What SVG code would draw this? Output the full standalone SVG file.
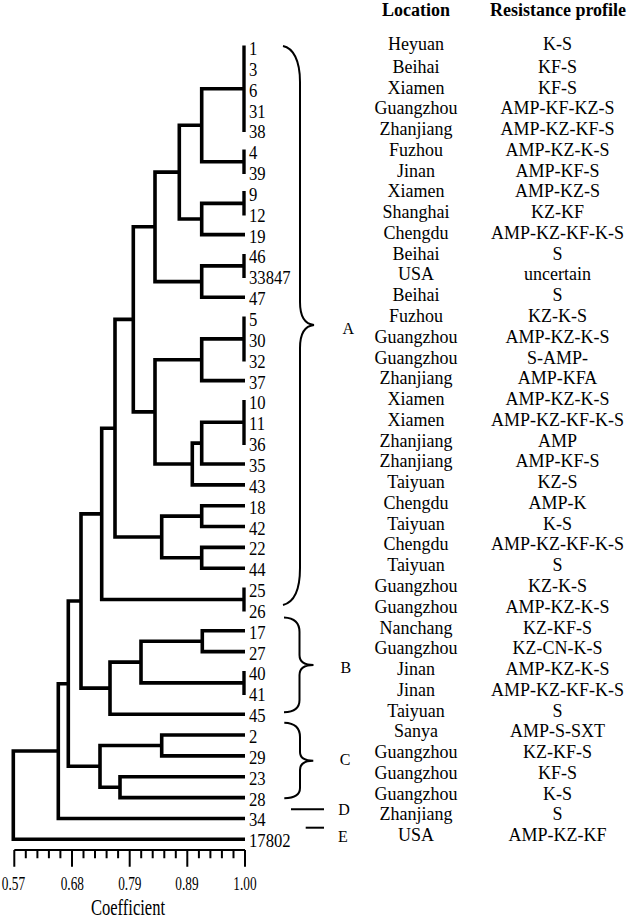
<svg xmlns="http://www.w3.org/2000/svg" width="630" height="921" viewBox="0 0 630 921">
<style>
text{font-family:"Liberation Serif","Times New Roman",serif;fill:#000}
.tree path{fill:none;stroke:#000;stroke-width:3.6;stroke-linejoin:miter}
.bar{stroke:#000;stroke-width:3.4}
.axis path{fill:none;stroke:#000;stroke-width:2}
.brace path{fill:none;stroke:#000;stroke-width:2}
.leaf text{font-size:18.5px}
.tick text{font-size:18px;text-anchor:middle}
.hdr{font-size:18px;font-weight:bold;text-anchor:middle}
.row text{font-size:18px;text-anchor:middle}
.cl{font-size:16px;text-anchor:middle}
</style>
<rect width="630" height="921" fill="#fff"/>

<g id="connectors" class="tree">
<path d="M245 88.7H201.7V161.7H245"/>
<path d="M245 203.4H201.7V234.65H245"/>
<path d="M201.7 125.2H179.3V219H201.7"/>
<path d="M245 265.9H201.7V297.2H245"/>
<path d="M179.3 172.1H155V281.6H201.7"/>
<path d="M245 338.9H201.7V380.6H245"/>
<path d="M245 422.3H201.7V464H245"/>
<path d="M201.7 443.15H192.3V484.85H245"/>
<path d="M201.7 359.75H155V464H192.3"/>
<path d="M155 226.8H133.3V411.9H155"/>
<path d="M245 505.7H201.7V526.55H245"/>
<path d="M245 547.4H201.7V568.25H245"/>
<path d="M201.7 516.1H161.7V557.8H201.7"/>
<path d="M133.3 319.4H115V537H161.7"/>
<path d="M115 428.2H101.7V599.5H245"/>
<path d="M245 630.8H202.3V651.65H245"/>
<path d="M202.3 641.2H141V682.9H245"/>
<path d="M141 662.1H110V714.2H245"/>
<path d="M101.7 513.9H81V688.1H110"/>
<path d="M245 735.05H161.7V755.9H245"/>
<path d="M245 776.75H120V797.6H245"/>
<path d="M161.7 745.5H100V787.2H120"/>
<path d="M81 601H68.3V766.3H100"/>
<path d="M68.3 683.7H58.3V818.45H245"/>
<path d="M58.3 751H13.3V839.3H245"/>
<line class="bar" x1="244" y1="45.5" x2="244" y2="132"/>
<line class="bar" x1="244" y1="149.5" x2="244" y2="174"/>
<line class="bar" x1="244" y1="191" x2="244" y2="215.5"/>
<line class="bar" x1="244" y1="254" x2="244" y2="278"/>
<line class="bar" x1="244" y1="316.5" x2="244" y2="361.5"/>
<line class="bar" x1="244" y1="400" x2="244" y2="445"/>
<line class="bar" x1="244" y1="587.5" x2="244" y2="611.5"/>
<line class="bar" x1="244" y1="671" x2="244" y2="695"/>
</g>

<g id="leaves" class="leaf" transform="translate(249,-2) scale(0.9,1)">
<g id="leaf-1"><text x="0" y="57">1</text></g>
<g id="leaf-3"><text x="0" y="77.85">3</text></g>
<g id="leaf-6"><text x="0" y="98.7">6</text></g>
<g id="leaf-31"><text x="0" y="119.55">31</text></g>
<g id="leaf-38"><text x="0" y="140.4">38</text></g>
<g id="leaf-4"><text x="0" y="161.25">4</text></g>
<g id="leaf-39"><text x="0" y="182.1">39</text></g>
<g id="leaf-9"><text x="0" y="202.95">9</text></g>
<g id="leaf-12"><text x="0" y="223.8">12</text></g>
<g id="leaf-19"><text x="0" y="244.65">19</text></g>
<g id="leaf-46"><text x="0" y="265.5">46</text></g>
<g id="leaf-33847"><text x="0" y="286.35">33847</text></g>
<g id="leaf-47"><text x="0" y="307.2">47</text></g>
<g id="leaf-5"><text x="0" y="328.05">5</text></g>
<g id="leaf-30"><text x="0" y="348.9">30</text></g>
<g id="leaf-32"><text x="0" y="369.75">32</text></g>
<g id="leaf-37"><text x="0" y="390.6">37</text></g>
<g id="leaf-10"><text x="0" y="411.45">10</text></g>
<g id="leaf-11"><text x="0" y="432.3">11</text></g>
<g id="leaf-36"><text x="0" y="453.15">36</text></g>
<g id="leaf-35"><text x="0" y="474">35</text></g>
<g id="leaf-43"><text x="0" y="494.85">43</text></g>
<g id="leaf-18"><text x="0" y="515.7">18</text></g>
<g id="leaf-42"><text x="0" y="536.55">42</text></g>
<g id="leaf-22"><text x="0" y="557.4">22</text></g>
<g id="leaf-44"><text x="0" y="578.25">44</text></g>
<g id="leaf-25"><text x="0" y="599.1">25</text></g>
<g id="leaf-26"><text x="0" y="619.95">26</text></g>
<g id="leaf-17"><text x="0" y="640.8">17</text></g>
<g id="leaf-27"><text x="0" y="661.65">27</text></g>
<g id="leaf-40"><text x="0" y="682.5">40</text></g>
<g id="leaf-41"><text x="0" y="703.35">41</text></g>
<g id="leaf-45"><text x="0" y="724.2">45</text></g>
<g id="leaf-2"><text x="0" y="745.05">2</text></g>
<g id="leaf-29"><text x="0" y="765.9">29</text></g>
<g id="leaf-23"><text x="0" y="786.75">23</text></g>
<g id="leaf-28"><text x="0" y="807.6">28</text></g>
<g id="leaf-34"><text x="0" y="828.45">34</text></g>
<g id="leaf-17802"><text x="0" y="849.3">17802</text></g>
</g>

<g id="axis" class="axis">
<path d="M14.3 850H245"/>
<path d="M14.3 850V866.7M72 850V866.7M129.7 850V866.7M187.3 850V866.7M245 850V866.7"/>
<path d="M25.8 850V858.3M37.4 850V858.3M48.9 850V858.3M60.4 850V858.3M83.5 850V858.3M95 850V858.3M106.6 850V858.3M118.1 850V858.3M141.2 850V858.3M152.7 850V858.3M164.3 850V858.3M175.8 850V858.3M198.9 850V858.3M210.4 850V858.3M221.9 850V858.3M233.5 850V858.3"/>
<g class="tick">
<text transform="translate(13.5,890) scale(0.74,1)">0.57</text>
<text transform="translate(72.3,890) scale(0.74,1)">0.68</text>
<text transform="translate(129.8,890) scale(0.74,1)">0.79</text>
<text transform="translate(187,890) scale(0.74,1)">0.89</text>
<text transform="translate(245,890) scale(0.74,1)">1.00</text>
</g>
<text transform="translate(128,915) scale(0.72,1)" style="font-size:23px;text-anchor:middle">Coefficient</text>
</g>

<g id="brace-A" class="brace">
<path d="M283 46C293 48 300 60 300 82L300 302C300 316 304 324 314 325C304 326 300 334 300 348L300 568C300 590 295 602 283 605"/>
<text class="cl" x="348.3" y="334">A</text>
</g>
<g id="brace-B" class="brace">
<path d="M284 617.5C294 618 299.5 622 299.5 632L299.5 655C299.5 662 304 665 313.5 665C304 665 299.5 668 299.5 675L299.5 700C299.5 708 294 712 284 712.3"/>
<text class="cl" x="345.8" y="673.3">B</text>
</g>
<g id="brace-C" class="brace">
<path d="M284.3 722.7C294 723 300 727 300 737L300 752C300 758 305 760.7 313.3 760.7C305 760.7 300 763 300 770L300 788C300 795 294 798 284.3 798.3"/>
<text class="cl" x="345" y="765">C</text>
</g>
<g id="group-D" class="brace">
<path d="M291 809.3H324"/>
<text class="cl" x="344" y="815">D</text>
</g>
<g id="group-E" class="brace">
<path d="M305.7 827.7H324"/>
<text class="cl" x="343" y="841.7">E</text>
</g>

<g id="table">
<text class="hdr" x="416" y="16">Location</text>
<text class="hdr" x="558" y="16">Resistance profile</text>
<g class="row" id="row-1"><text x="416" y="49.5">Heyuan</text><text x="557.5" y="49.5">K-S</text></g>
<g class="row" id="row-3"><text x="416" y="72.7">Beihai</text><text x="557.5" y="72.7">KF-S</text></g>
<g class="row" id="row-6"><text x="416" y="93.5">Xiamen</text><text x="557.5" y="93.5">KF-S</text></g>
<g class="row" id="row-31"><text x="416" y="114.2">Guangzhou</text><text x="557.5" y="114.2">AMP-KF-KZ-S</text></g>
<g class="row" id="row-38"><text x="416" y="135">Zhanjiang</text><text x="557.5" y="135">AMP-KZ-KF-S</text></g>
<g class="row" id="row-4"><text x="416" y="155.8">Fuzhou</text><text x="557.5" y="155.8">AMP-KZ-K-S</text></g>
<g class="row" id="row-39"><text x="416" y="176.6">Jinan</text><text x="557.5" y="176.6">AMP-KF-S</text></g>
<g class="row" id="row-9"><text x="416" y="197.3">Xiamen</text><text x="557.5" y="197.3">AMP-KZ-S</text></g>
<g class="row" id="row-12"><text x="416" y="218.1">Shanghai</text><text x="557.5" y="218.1">KZ-KF</text></g>
<g class="row" id="row-19"><text x="416" y="238.9">Chengdu</text><text x="557.5" y="238.9">AMP-KZ-KF-K-S</text></g>
<g class="row" id="row-46"><text x="416" y="259.6">Beihai</text><text x="557.5" y="259.6">S</text></g>
<g class="row" id="row-33847"><text x="416" y="280.4">USA</text><text x="557.5" y="280.4">uncertain</text></g>
<g class="row" id="row-47"><text x="416" y="301.2">Beihai</text><text x="557.5" y="301.2">S</text></g>
<g class="row" id="row-5"><text x="416" y="321.9">Fuzhou</text><text x="557.5" y="321.9">KZ-K-S</text></g>
<g class="row" id="row-30"><text x="416" y="342.7">Guangzhou</text><text x="557.5" y="342.7">AMP-KZ-K-S</text></g>
<g class="row" id="row-32"><text x="416" y="363.5">Guangzhou</text><text x="557.5" y="363.5">S-AMP-</text></g>
<g class="row" id="row-37"><text x="416" y="384.3">Zhanjiang</text><text x="557.5" y="384.3">AMP-KFA</text></g>
<g class="row" id="row-10"><text x="416" y="405">Xiamen</text><text x="557.5" y="405">AMP-KZ-K-S</text></g>
<g class="row" id="row-11"><text x="416" y="425.8">Xiamen</text><text x="557.5" y="425.8">AMP-KZ-KF-K-S</text></g>
<g class="row" id="row-36"><text x="416" y="446.6">Zhanjiang</text><text x="557.5" y="446.6">AMP</text></g>
<g class="row" id="row-35"><text x="416" y="467.3">Zhanjiang</text><text x="557.5" y="467.3">AMP-KF-S</text></g>
<g class="row" id="row-43"><text x="416" y="488.1">Taiyuan</text><text x="557.5" y="488.1">KZ-S</text></g>
<g class="row" id="row-18"><text x="416" y="508.9">Chengdu</text><text x="557.5" y="508.9">AMP-K</text></g>
<g class="row" id="row-42"><text x="416" y="529.6">Taiyuan</text><text x="557.5" y="529.6">K-S</text></g>
<g class="row" id="row-22"><text x="416" y="550.4">Chengdu</text><text x="557.5" y="550.4">AMP-KZ-KF-K-S</text></g>
<g class="row" id="row-44"><text x="416" y="571.2">Taiyuan</text><text x="557.5" y="571.2">S</text></g>
<g class="row" id="row-25"><text x="416" y="591.9">Guangzhou</text><text x="557.5" y="591.9">KZ-K-S</text></g>
<g class="row" id="row-26"><text x="416" y="612.7">Guangzhou</text><text x="557.5" y="612.7">AMP-KZ-K-S</text></g>
<g class="row" id="row-17"><text x="416" y="633.5">Nanchang</text><text x="557.5" y="633.5">KZ-KF-S</text></g>
<g class="row" id="row-27"><text x="416" y="654.3">Guangzhou</text><text x="557.5" y="654.3">KZ-CN-K-S</text></g>
<g class="row" id="row-40"><text x="416" y="675">Jinan</text><text x="557.5" y="675">AMP-KZ-K-S</text></g>
<g class="row" id="row-41"><text x="416" y="695.8">Jinan</text><text x="557.5" y="695.8">AMP-KZ-KF-K-S</text></g>
<g class="row" id="row-45"><text x="416" y="716.6">Taiyuan</text><text x="557.5" y="716.6">S</text></g>
<g class="row" id="row-2"><text x="416" y="737.3">Sanya</text><text x="557.5" y="737.3">AMP-S-SXT</text></g>
<g class="row" id="row-29"><text x="416" y="758.1">Guangzhou</text><text x="557.5" y="758.1">KZ-KF-S</text></g>
<g class="row" id="row-23"><text x="416" y="778.9">Guangzhou</text><text x="557.5" y="778.9">KF-S</text></g>
<g class="row" id="row-28"><text x="416" y="799.6">Guangzhou</text><text x="557.5" y="799.6">K-S</text></g>
<g class="row" id="row-34"><text x="416" y="820.4">Zhanjiang</text><text x="557.5" y="820.4">S</text></g>
<g class="row" id="row-17802"><text x="416" y="841.2">USA</text><text x="557.5" y="841.2">AMP-KZ-KF</text></g>
</g>
</svg>
